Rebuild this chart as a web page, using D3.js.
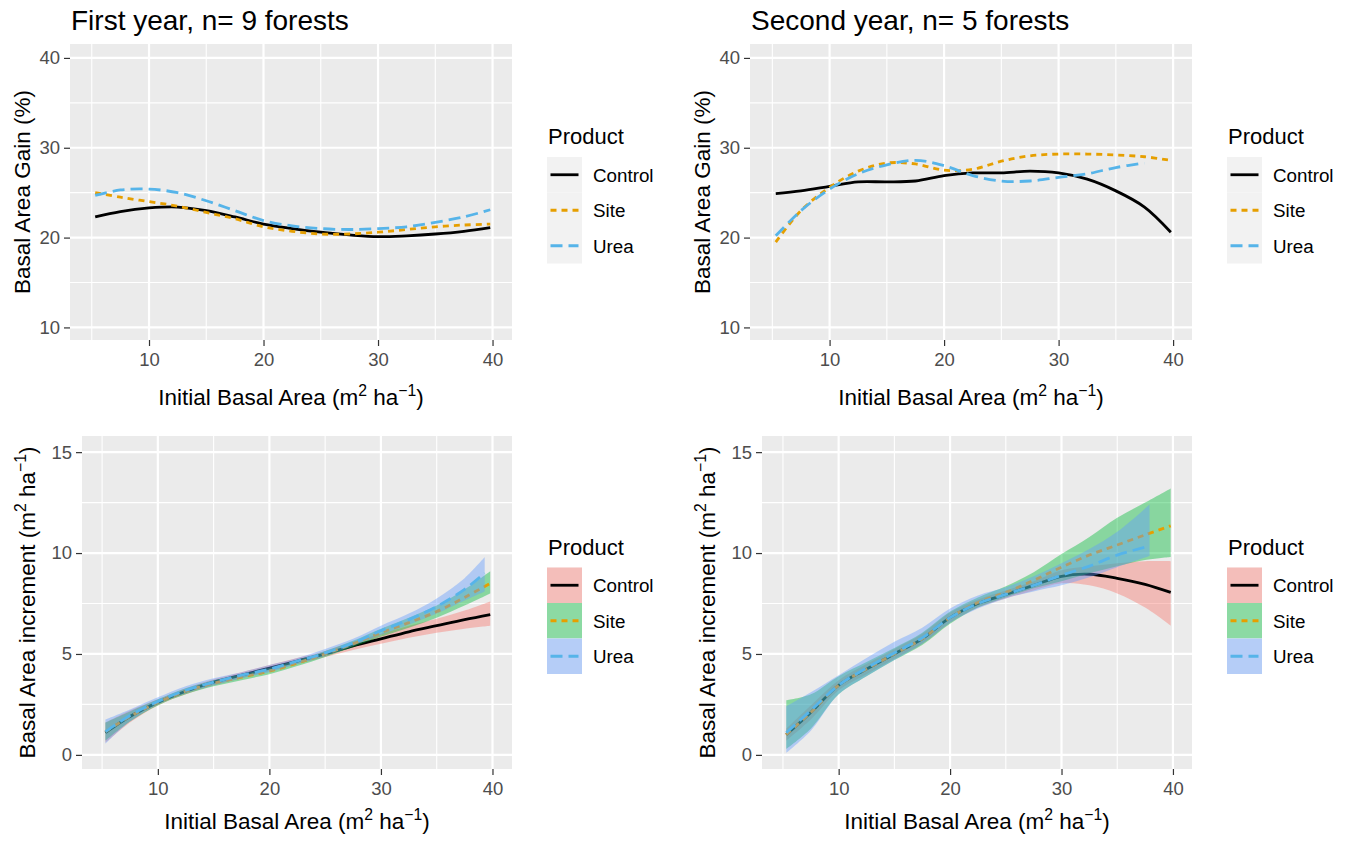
<!DOCTYPE html>
<html>
<head>
<meta charset="utf-8">
<script src="https://cdn.jsdelivr.net/npm/d3@7"></script>
<style>
  body { margin: 0; background: #fff; }
  svg { font-family: "Liberation Sans", Arial, sans-serif; }
</style>
</head>
<body>
<div id="chart"></div>
<script>
  // Common x positions (initial basal area, m2/ha) where the curves were read
  const xGrid = [5.3, 7.5, 10, 12.5, 15, 17.5, 20, 22.5, 25, 27.5, 30, 32.5, 35, 37.5, 39.8];
  const xUreaInc1 = [5.3, 7.5, 10, 12.5, 15, 17.5, 20, 22.5, 25, 27.5, 30, 32.5, 35, 37.5, 39.3];
  const xUreaInc2 = [5.3, 7.5, 10, 12.5, 15, 17.5, 20, 22.5, 25, 27.5, 30, 32.5, 35, 37.9];

  const products = ["Control", "Site", "Urea"];
  const xTicks = [10, 20, 30, 40];
  const gainTicks = [10, 20, 30, 40];
  const incTicks = [0, 5, 10, 15];

  // First year, basal area gain (%)
  const gain1Control = [22.3, 22.9, 23.3, 23.4, 23.0, 22.3, 21.5, 21.0, 20.6, 20.3, 20.1, 20.2, 20.4, 20.7, 21.1];
  const gain1Site    = [25.0, 24.5, 24.0, 23.5, 22.8, 22.1, 21.2, 20.7, 20.4, 20.4, 20.6, 20.9, 21.2, 21.4, 21.5];
  const gain1Urea    = [24.7, 25.3, 25.4, 25.0, 24.1, 23.0, 21.9, 21.3, 21.0, 20.9, 21.0, 21.2, 21.7, 22.3, 23.1];

  // Second year, basal area gain (%)
  const gain2Control = [24.9, 25.2, 25.7, 26.2, 26.2, 26.3, 26.9, 27.2, 27.2, 27.4, 27.2, 26.5, 25.2, 23.4, 20.6];
  const gain2Site    = [19.5, 23.0, 25.6, 27.4, 28.3, 28.2, 27.5, 27.6, 28.5, 29.1, 29.3, 29.3, 29.2, 29.0, 28.6];
  const gain2Urea    = [20.2, 23.0, 25.4, 27.1, 28.1, 28.6, 28.0, 26.9, 26.3, 26.3, 26.7, 27.1, 27.8, 28.3, null];

  // First year, basal area increment (m2/ha) with confidence bands
  const inc1Control   = [1.1, 1.9, 2.6, 3.15, 3.6, 3.95, 4.3, 4.65, 5.0, 5.4, 5.75, 6.1, 6.4, 6.7, 6.95];
  const inc1ControlLo = [0.6, 1.6, 2.45, 3.0, 3.45, 3.8, 4.15, 4.5, 4.85, 5.2, 5.5, 5.8, 6.05, 6.25, 6.4];
  const inc1ControlHi = [1.6, 2.2, 2.75, 3.3, 3.75, 4.1, 4.45, 4.8, 5.15, 5.6, 6.0, 6.4, 6.75, 7.15, 7.6];
  const inc1Site      = [1.15, 1.9, 2.6, 3.15, 3.55, 3.85, 4.15, 4.55, 5.0, 5.5, 6.05, 6.55, 7.1, 7.8, 8.5];
  const inc1SiteLo    = [0.7, 1.65, 2.45, 3.0, 3.4, 3.7, 4.0, 4.4, 4.85, 5.35, 5.85, 6.3, 6.8, 7.4, 8.0];
  const inc1SiteHi    = [1.6, 2.15, 2.75, 3.3, 3.7, 4.0, 4.3, 4.7, 5.15, 5.65, 6.25, 6.8, 7.4, 8.2, 9.1];
  const inc1Urea      = [1.15, 1.95, 2.65, 3.2, 3.6, 3.95, 4.25, 4.65, 5.05, 5.55, 6.15, 6.7, 7.35, 8.2, 9.0];
  const inc1UreaLo    = [0.55, 1.65, 2.5, 3.05, 3.45, 3.8, 4.1, 4.5, 4.9, 5.4, 5.95, 6.45, 7.0, 7.65, 8.1];
  const inc1UreaHi    = [1.75, 2.25, 2.85, 3.4, 3.8, 4.1, 4.45, 4.8, 5.25, 5.75, 6.4, 7.0, 7.75, 8.75, 9.8];

  // Second year, basal area increment (m2/ha) with confidence bands
  const inc2Control   = [1.0, 2.1, 3.45, 4.25, 5.0, 5.75, 6.8, 7.5, 7.95, 8.4, 8.85, 8.95, 8.75, 8.45, 8.05];
  const inc2ControlLo = [0.7, 1.75, 3.2, 4.0, 4.75, 5.5, 6.55, 7.3, 7.75, 8.15, 8.5, 8.4, 8.0, 7.3, 6.4];
  const inc2ControlHi = [1.3, 2.45, 3.7, 4.5, 5.25, 6.0, 7.05, 7.7, 8.15, 8.6, 9.15, 9.35, 9.5, 9.6, 9.6];
  const inc2Site      = [1.0, 2.1, 3.45, 4.25, 5.0, 5.75, 6.8, 7.55, 8.05, 8.65, 9.3, 9.9, 10.4, 10.9, 11.35];
  const inc2SiteLo    = [0.3, 1.3, 3.0, 3.9, 4.7, 5.45, 6.5, 7.3, 7.8, 8.25, 8.6, 9.0, 9.35, 9.65, 9.8];
  const inc2SiteHi    = [2.7, 3.0, 3.9, 4.6, 5.3, 6.05, 7.1, 7.8, 8.35, 9.05, 9.95, 10.8, 11.75, 12.5, 13.2];
  const inc2Urea      = [1.1, 2.2, 3.45, 4.3, 5.05, 5.8, 6.8, 7.5, 7.95, 8.4, 8.9, 9.35, 9.9, 10.35];
  const inc2UreaLo    = [0.1, 1.2, 3.0, 3.9, 4.7, 5.5, 6.55, 7.25, 7.75, 8.1, 8.4, 8.8, 9.3, 9.85];
  const inc2UreaHi    = [2.4, 3.1, 3.95, 4.8, 5.6, 6.3, 7.25, 7.9, 8.3, 8.85, 9.5, 10.2, 11.05, 12.4];

  // styling
  const lineColor = { Control: "#000000", Site: "#E69F00", Urea: "#56B4E9" };
  const fillColor = { Control: "#F8766D", Site: "#00BA38", Urea: "#619CFF" };
  const dashes = { Control: null, Site: "6,5", Urea: "12,6" };
  const fillAlpha = 0.42;

  const width = 1351;
  const height = 841;

  const svg = d3.select("#chart")
    .append("svg")
    .attr("width", width)
    .attr("height", height);

  svg.append("rect").attr("width", width).attr("height", height).attr("fill", "#ffffff");

  const zip = (xs, ys) => xs.map((x, i) => ({ x, y: ys[i] })).filter(d => d.y != null);
  const zipBand = (xs, lo, hi) => xs.map((x, i) => ({ x, lo: lo[i], hi: hi[i] }));

  const incTitle = [["Basal Area increment (m", 0], ["2", 1], [" ha", 0], ["\u22121", 1], [")", 0]];
  const xTitle = [["Initial Basal Area (m", 0], ["2", 1], [" ha", 0], ["\u22121", 1], [")", 0]];

  const panels = [
    {
      title: "First year, n= 9 forests",
      left: 70, right: 512, top: 44, bottom: 340,
      xDomain: [3.1, 41.7], yDomain: [8.6, 41.55],
      yTicks: gainTicks, yMinor: [15, 25, 35],
      yTitle: [["Basal Area Gain (%)", 0]], yTitleX: 30, xTitleY: 405,
      band: false,
      series: [
        { name: "Control", line: zip(xGrid, gain1Control) },
        { name: "Site", line: zip(xGrid, gain1Site) },
        { name: "Urea", line: zip(xGrid, gain1Urea) }
      ]
    },
    {
      title: "Second year, n= 5 forests",
      left: 750, right: 1192, top: 44, bottom: 340,
      xDomain: [3.05, 41.65], yDomain: [8.6, 41.55],
      yTicks: gainTicks, yMinor: [15, 25, 35],
      yTitle: [["Basal Area Gain (%)", 0]], yTitleX: 710, xTitleY: 405,
      band: false,
      series: [
        { name: "Control", line: zip(xGrid, gain2Control) },
        { name: "Site", line: zip(xGrid, gain2Site) },
        { name: "Urea", line: zip(xGrid, gain2Urea) }
      ]
    },
    {
      title: null,
      left: 82, right: 512, top: 436, bottom: 769,
      xDomain: [3.2, 41.75], yDomain: [-0.7, 15.8],
      yTicks: incTicks, yMinor: [2.5, 7.5, 12.5],
      yTitle: incTitle, yTitleX: 35, xTitleY: 829,
      band: true,
      series: [
        { name: "Control", line: zip(xGrid, inc1Control), band: zipBand(xGrid, inc1ControlLo, inc1ControlHi) },
        { name: "Site", line: zip(xGrid, inc1Site), band: zipBand(xGrid, inc1SiteLo, inc1SiteHi) },
        { name: "Urea", line: zip(xUreaInc1, inc1Urea), band: zipBand(xUreaInc1, inc1UreaLo, inc1UreaHi) }
      ]
    },
    {
      title: null,
      left: 762, right: 1192, top: 436, bottom: 769,
      xDomain: [3.12, 41.71], yDomain: [-0.7, 15.8],
      yTicks: incTicks, yMinor: [2.5, 7.5, 12.5],
      yTitle: incTitle, yTitleX: 715, xTitleY: 829,
      band: true,
      series: [
        { name: "Control", line: zip(xGrid, inc2Control), band: zipBand(xGrid, inc2ControlLo, inc2ControlHi) },
        { name: "Site", line: zip(xGrid, inc2Site), band: zipBand(xGrid, inc2SiteLo, inc2SiteHi) },
        { name: "Urea", line: zip(xUreaInc2, inc2Urea), band: zipBand(xUreaInc2, inc2UreaLo, inc2UreaHi) }
      ]
    }
  ];

  // writes text with superscript parts
  function richText(sel, parts, size) {
    parts.forEach(([t, sup], i) => {
      const prevSup = i > 0 && parts[i - 1][1];
      const ts = sel.append("tspan").text(t);
      if (sup) ts.attr("font-size", size * 0.7).attr("dy", -size * 0.4);
      else if (prevSup) ts.attr("dy", size * 0.4);
    });
  }

  panels.forEach(p => {
    const x = d3.scaleLinear().domain(p.xDomain).range([p.left, p.right]);
    const y = d3.scaleLinear().domain(p.yDomain).range([p.bottom, p.top]);
    const g = svg.append("g");

    // panel background and grid
    g.append("rect")
      .attr("x", p.left).attr("y", p.top)
      .attr("width", p.right - p.left).attr("height", p.bottom - p.top)
      .attr("fill", "#EBEBEB");

    g.selectAll(".vminor").data([5, 15, 25, 35]).enter().append("line")
      .attr("x1", d => x(d)).attr("x2", d => x(d)).attr("y1", p.top).attr("y2", p.bottom)
      .attr("stroke", "#fff").attr("stroke-width", 1.1);
    g.selectAll(".hminor").data(p.yMinor).enter().append("line")
      .attr("y1", d => y(d)).attr("y2", d => y(d)).attr("x1", p.left).attr("x2", p.right)
      .attr("stroke", "#fff").attr("stroke-width", 1.1);
    g.selectAll(".vmajor").data(xTicks).enter().append("line")
      .attr("x1", d => x(d)).attr("x2", d => x(d)).attr("y1", p.top).attr("y2", p.bottom)
      .attr("stroke", "#fff").attr("stroke-width", 2.2);
    g.selectAll(".hmajor").data(p.yTicks).enter().append("line")
      .attr("y1", d => y(d)).attr("y2", d => y(d)).attr("x1", p.left).attr("x2", p.right)
      .attr("stroke", "#fff").attr("stroke-width", 2.2);

    const line = d3.line().x(d => x(d.x)).y(d => y(d.y)).curve(d3.curveCatmullRom.alpha(0.5));
    const area = d3.area().x(d => x(d.x)).y0(d => y(d.lo)).y1(d => y(d.hi)).curve(d3.curveCatmullRom.alpha(0.5));

    // ribbon then line, group by group
    p.series.forEach(s => {
      if (s.band) {
        g.append("path").datum(s.band)
          .attr("d", area)
          .attr("fill", fillColor[s.name])
          .attr("fill-opacity", fillAlpha);
      }
      g.append("path").datum(s.line)
        .attr("d", line)
        .attr("fill", "none")
        .attr("stroke", lineColor[s.name])
        .attr("stroke-width", 2.8)
        .attr("stroke-dasharray", dashes[s.name]);
    });

    // axes
    const xa = g.append("g")
      .attr("transform", `translate(0,${p.bottom})`)
      .call(d3.axisBottom(x).tickValues(xTicks).tickSize(6).tickPadding(7).tickFormat(d3.format("d")));
    const ya = g.append("g")
      .attr("transform", `translate(${p.left},0)`)
      .call(d3.axisLeft(y).tickValues(p.yTicks).tickSize(6).tickPadding(4).tickFormat(d3.format("d")));
    [xa, ya].forEach(a => {
      a.attr("font-family", null).attr("font-size", null);
      a.select(".domain").remove();
      a.selectAll(".tick line").attr("stroke", "#333333").attr("stroke-width", 1.2);
      a.selectAll(".tick text").attr("fill", "#4D4D4D").attr("font-size", 18.5);
    });

    // titles
    if (p.title) {
      svg.append("text")
        .attr("x", p.left + 1).attr("y", 30)
        .attr("font-size", 28).attr("fill", "#000")
        .text(p.title);
    }
    const xt = svg.append("text")
      .attr("x", (p.left + p.right) / 2).attr("y", p.xTitleY)
      .attr("text-anchor", "middle").attr("font-size", 22.5).attr("fill", "#000");
    richText(xt, xTitle, 22.5);

    const yt = svg.append("text")
      .attr("transform", `translate(${p.yTitleX},${(p.top + p.bottom) / 2}) rotate(-90)`)
      .attr("text-anchor", "middle").attr("font-size", 22.5).attr("fill", "#000");
    richText(yt, p.yTitle, 22.5);

    // legend
    const cy = (p.top + p.bottom) / 2;
    const lx = p.right + 35;
    const keyW = 35, keyH = 35.5;
    const lg = svg.append("g");
    lg.append("text")
      .attr("x", lx + 1).attr("y", cy - 48)
      .attr("font-size", 22).attr("fill", "#000")
      .text("Product");
    products.forEach((name, i) => {
      const ky = cy - 35 + i * keyH;
      lg.append("rect")
        .attr("x", lx).attr("y", ky).attr("width", keyW).attr("height", keyH)
        .attr("fill", "#F2F2F2");
      if (p.band) {
        lg.append("rect")
          .attr("x", lx).attr("y", ky).attr("width", keyW).attr("height", keyH)
          .attr("fill", fillColor[name]).attr("fill-opacity", fillAlpha);
      }
      lg.append("line")
        .attr("x1", lx + 3.5).attr("x2", lx + keyW - 3.5)
        .attr("y1", ky + keyH / 2).attr("y2", ky + keyH / 2)
        .attr("stroke", lineColor[name]).attr("stroke-width", 2.8)
        .attr("stroke-dasharray", dashes[name]);
      lg.append("text")
        .attr("x", lx + keyW + 11).attr("y", ky + keyH / 2)
        .attr("dy", "0.36em")
        .attr("font-size", 18.8).attr("fill", "#000")
        .text(name);
    });
  });
</script>
</body>
</html>
